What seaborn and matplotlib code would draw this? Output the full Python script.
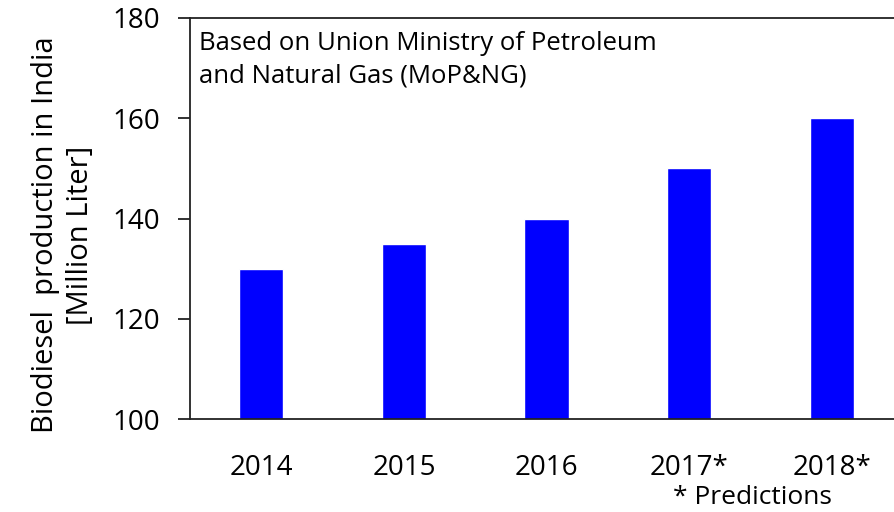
import matplotlib
matplotlib.use("Agg")
import matplotlib.pyplot as plt
import seaborn as sns
import pandas as pd

years = ["2014", "2015", "2016", "2017*", "2018*"]
production = [130, 135, 140, 150, 160]

sns.set_style("white")
plt.rcParams['font.family'] = ['Open Sans', 'DejaVu Sans']

df = pd.DataFrame({"year": years, "prod": production})

fig = plt.figure(figsize=(8.94, 5.12), dpi=100)
ax = fig.add_axes([190/894, 1-419/512, (894-190)/894 + 0.01, (419-18)/512])

sns.barplot(data=df, x="year", y="prod", color="#0000FF", saturation=1, width=0.31, ax=ax)
ax.set_xlim(-0.5, 4.5)
ax.set_ylim(100, 180)
ax.set_yticks([100, 120, 140, 160, 180])
ax.set_xlabel("")
ax.set_ylabel("")
for s in ["left", "top", "bottom"]:
    ax.spines[s].set_visible(True)
    ax.spines[s].set_color("#222222")
    ax.spines[s].set_linewidth(1.3)
ax.spines["right"].set_visible(False)
ax.tick_params(axis="y", which="both", left=True, direction="out", length=8.6, width=1.3,
               color="#222222", labelsize=20, pad=13, labelcolor="black")
ax.tick_params(axis="x", bottom=False, labelsize=20, pad=22, labelcolor="black")

fig.text(63/894, 1-235/512, "Biodiesel  production in India\n[Million Liter]", rotation=90,
         ha="center", va="center", fontsize=21, linespacing=1.3, color="black")
ax.text(0.013, 0.968, "Based on Union Ministry of Petroleum\nand Natural Gas (MoP&NG)", transform=ax.transAxes,
        ha="left", va="top", fontsize=18.5, linespacing=1.4, color="black")
fig.text(752/894, 1-497/512, "* Predictions", ha="center", va="center", fontsize=19, color="black")

fig.savefig("out.png", dpi=100)
